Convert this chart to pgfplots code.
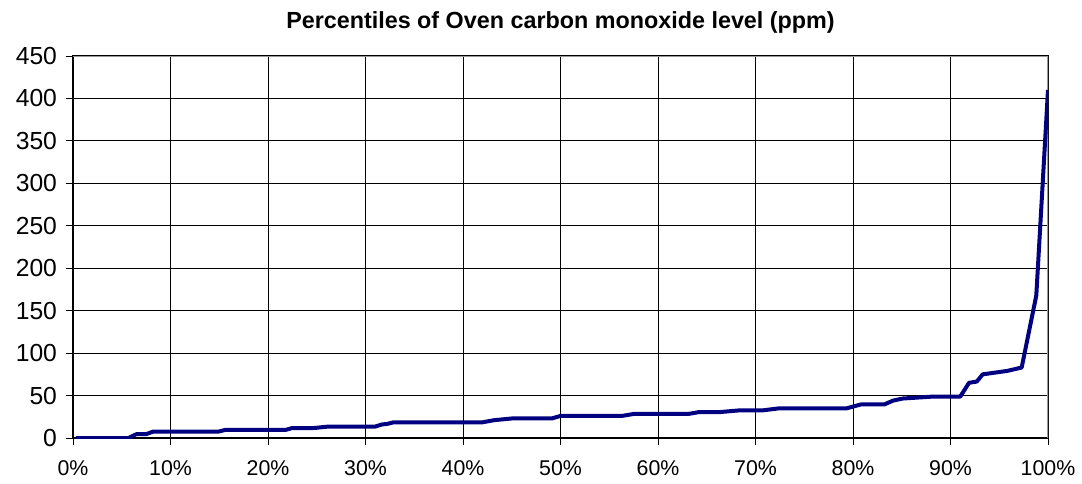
\documentclass[border=0pt]{standalone}
\usepackage{pgfplots}
\pgfplotsset{compat=1.18}
\usepackage{fontspec}
\setmainfont{Liberation Sans}

% 1 px of the reference = 0.75pt
\begin{document}
\begin{tikzpicture}
\path[use as bounding box] (-54.75pt,-33.75pt) rectangle (756.75pt,328.5pt);
\begin{axis}[
  at={(0,0)}, anchor=south west,
  scale only axis,
  width=731.25pt, height=286.5pt,
  xmin=0, xmax=100, ymin=0, ymax=450,
  xtick={0,10,...,100},
  ytick={0,50,...,450},
  xticklabel={\pgfmathprintnumber{\tick}\%},
  /pgf/number format/assume math mode=true,
  xticklabel style={font=\fontsize{16}{18}\selectfont, yshift=-8pt},
  yticklabel style={font=\fontsize{18.5}{20}\selectfont, xshift=-3pt},
  tick align=outside,
  major tick length=5.5pt,
  tick style={black, line width=0.6pt},
  xtick pos=bottom, ytick pos=left,
  grid=major,
  major grid style={black, line width=0.6pt},
  axis line style={black, line width=0.8pt},
  title={Percentiles of Oven carbon monoxide level (ppm)},
  title style={font=\bfseries\fontsize{17.5}{19}\selectfont, at={(0.5,1)}, anchor=base, yshift=15pt},
]
\draw[gray!80, line width=1pt] (rel axis cs:0,1) -- (rel axis cs:1,1) -- (rel axis cs:1,0);
\addplot[color={rgb,255:red,0;green,0;blue,128}, line width=3pt, line join=round] coordinates {
(0.3,0) (5.7,0) (6.5,4.5) (7.5,4.5) (8.2,7.5) (14.9,7.5) (15.6,9.5) (21.8,9.5)
(22.4,11.5) (24.5,11.5) (26.2,13.5) (31.0,13.5) (31.7,16) (32.2,16.5) (32.9,18.5)
(42.0,18.5) (43.2,21) (45.0,23) (49.1,23) (50.0,26) (56.3,26) (57.6,28.5)
(63.2,28.5) (64.2,30.5) (66.3,30.5) (68.3,32.5) (70.7,32.5) (72.3,34.8)
(79.3,34.8) (80.8,39.5) (83.2,39.5) (84.1,44) (85.1,46.5) (88.2,48.8) (91.0,48.8)
(91.9,65) (92.7,66.5) (93.3,75) (95.8,79) (97.3,83) (98.8,168) (100,410)
};
\end{axis}
\end{tikzpicture}
\end{document}
